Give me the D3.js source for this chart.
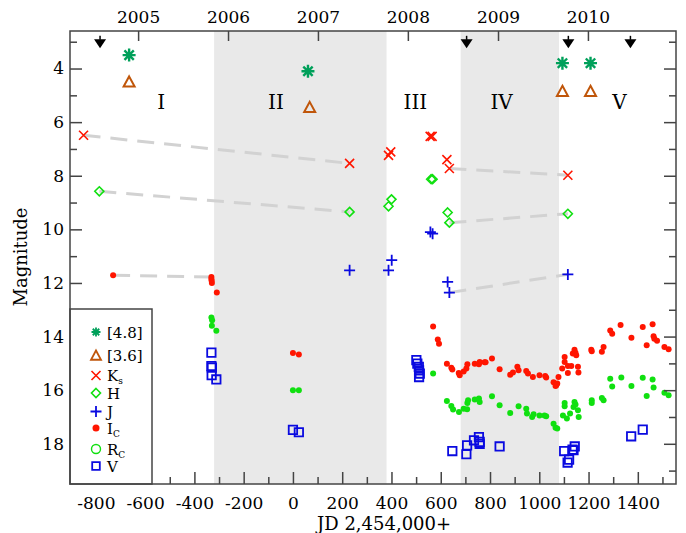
<!DOCTYPE html>
<html>
<head>
<meta charset="utf-8">
<script src="https://cdn.jsdelivr.net/npm/d3@7/dist/d3.min.js"></script>
<style>
  body { margin: 0; background: #fff; }
  svg { display: block; font-family: "DejaVu Serif", serif; }
</style>
</head>
<body>
<svg id="chart" width="686" height="533"></svg>
<script>
// photometry: [JD - 2454000, magnitude]
const irac48 = [[-665, 3.5], [61, 4.1], [1094, 3.8], [1208, 3.8]];
const irac36 = [[-665, 4.5], [68, 5.45], [1094, 4.85], [1208, 4.85]];
const ksBand = [[-850, 6.49], [230, 7.54], [388, 7.24], [397, 7.11], [557, 6.53], [565, 6.53], [625, 7.40], [635, 7.73], [1116, 7.98]];
const hBand = [[-786, 8.58], [230, 9.35], [388, 9.14], [400, 8.88], [561, 8.13], [567, 8.13], [628, 9.37], [635, 9.75], [1116, 9.42]];
const jBand = [[230, 11.53], [388, 11.53], [401, 11.15], [558, 10.1], [567, 10.16], [628, 11.96], [635, 12.36], [1116, 11.68]];
const icBand = [[-730, 11.71], [-331, 11.78], [-331, 11.85], [-330, 11.92], [-329, 12.0], [-309, 12.36],
  [0, 14.61], [24, 14.67],
  [569, 13.62], [588, 14.11], [593, 14.27], [625, 15.01], [643, 15.16], [647, 15.23], [673, 15.36], [677, 15.44],
  [693, 15.3], [704, 15.19], [708, 15.03], [738, 15.01], [755, 15.03], [758, 14.95], [778, 14.96], [782, 14.96],
  [808, 14.82], [839, 15.22], [882, 15.42], [893, 15.34], [911, 15.13], [916, 15.26], [947, 15.28], [954, 15.38],
  [974, 15.51], [1001, 15.44], [1024, 15.47], [1028, 15.53], [1058, 15.70], [1066, 15.84], [1069, 15.82], [1073, 15.75],
  [1078, 15.51], [1093, 15.19], [1103, 14.76], [1103, 14.95], [1116, 15.36], [1116, 15.1], [1130, 15.1], [1136, 14.63],
  [1143, 14.49], [1147, 14.6], [1150, 14.7], [1157, 15.13], [1159, 15.34], [1211, 14.49], [1213, 14.55], [1254, 14.57],
  [1261, 14.39], [1288, 13.77], [1296, 13.89], [1330, 13.57], [1374, 14.04], [1420, 13.64], [1436, 14.32], [1460, 13.54],
  [1464, 13.99], [1467, 14.08], [1478, 14.16], [1508, 14.39], [1525, 14.47]];
const rcBand = [[-331, 13.29], [-328, 13.39], [-329, 13.6], [-311, 13.78],
  [0, 16.0], [24, 16.0],
  [569, 15.38], [625, 16.4], [643, 16.59], [650, 16.72], [674, 16.81], [693, 16.69], [707, 16.71], [708, 16.48],
  [711, 16.38], [738, 16.35], [755, 16.31], [758, 16.44], [808, 16.23], [839, 16.56], [882, 16.85], [916, 16.6],
  [947, 16.69], [950, 16.87], [971, 17.0], [977, 16.9], [1001, 16.94], [1021, 16.94], [1028, 16.97], [1058, 17.25],
  [1066, 17.4], [1073, 17.43], [1096, 16.94], [1103, 16.6], [1103, 16.48], [1112, 17.06], [1125, 16.87], [1139, 16.63],
  [1143, 16.44], [1147, 16.53], [1157, 16.75], [1160, 17.0], [1213, 16.38], [1213, 16.48], [1254, 16.29], [1261, 16.38],
  [1288, 15.57], [1296, 15.86], [1333, 15.53], [1374, 15.84], [1420, 15.54], [1436, 16.22], [1460, 15.6], [1464, 15.9],
  [1508, 16.1], [1525, 16.19]];
const vBand = [[-331, 14.6], [-331, 15.1], [-329, 15.16], [-330, 15.44], [-311, 15.6],
  [0, 17.48], [24, 17.57],
  [501, 14.88], [505, 15.01], [511, 15.13], [512, 15.26], [515, 15.38], [512, 15.51],
  [647, 18.27], [707, 18.06], [704, 18.39], [735, 17.87], [755, 17.75], [758, 17.93], [758, 18.0], [839, 18.1],
  [1101, 18.27], [1115, 18.7], [1121, 18.59], [1135, 18.22], [1144, 18.1], [1139, 18.24], [1373, 17.72], [1420, 17.47]];

// dashed connectors between epochs
const connectors = [
  [[-850, 6.49], [230, 7.54]], [[-786, 8.58], [230, 9.35]], [[-730, 11.71], [-331, 11.78]],
  [[635, 7.73], [1116, 7.98]], [[635, 9.75], [1116, 9.42]], [[635, 12.36], [1116, 11.68]]];

const shadedSpans = [[-320, 380], [681, 1080]];
const eraNames = ["I", "II", "III", "IV", "V"];
const eraJD = [-535, -69, 497, 847, 1326];
const eraMag = 5.5;
const arrowJD = [-783, 705, 1118, 1370];
const arrowMag = 2.78;
const yearLabels = [2005, 2006, 2007, 2008, 2009, 2010];
const yearJD = [-628.5, -263.5, 101.5, 466.5, 832.5, 1197.5];
const xMajor = [-800, -600, -400, -200, 0, 200, 400, 600, 800, 1000, 1200, 1400];
const xMinor = [-900, -700, -500, -300, -100, 100, 300, 500, 700, 900, 1100, 1300, 1500];
const yMajor = [4, 6, 8, 10, 12, 14, 16, 18];
const yMinor = [3, 5, 7, 9, 11, 13, 15, 17, 19];

const svg = d3.select("#chart");
const margin = {top: 31, right: 10, bottom: 49, left: 70},
  width = 686 - margin.left - margin.right,
  height = 533 - margin.top - margin.bottom;

const x = d3.scaleLinear().domain([-905, 1555]).range([0, width]);
const y = d3.scaleLinear().domain([2.6, 19.5]).range([0, height]);

const g = svg.append("g").attr("transform", `translate(${margin.left},${margin.top})`);

// shaded epochs
g.selectAll(".band").data(shadedSpans).enter().append("rect")
  .attr("x", d => x(d[0])).attr("y", 0)
  .attr("width", d => x(d[1]) - x(d[0])).attr("height", height)
  .style("fill", "#e9e9e9");

// epoch labels
g.selectAll(".era").data(eraNames).enter().append("text")
  .attr("x", (d, i) => x(eraJD[i])).attr("y", y(eraMag))
  .attr("text-anchor", "middle")
  .style("font-size", "20px")
  .text(d => d);

// dashed connectors
g.selectAll(".conn").data(connectors).enter().append("line")
  .attr("x1", d => x(d[0][0])).attr("y1", d => y(d[0][1]))
  .attr("x2", d => x(d[1][0])).attr("y2", d => y(d[1][1]))
  .style("stroke", "#d2d2d2").style("stroke-width", 3)
  .style("stroke-dasharray", "17,10");

// marker shapes
const shapes = {
  aster: r => { const k = r * 0.72; return `M${-r},0H${r}M0,${-r}V${r}M${-k},${-k}L${k},${k}M${-k},${k}L${k},${-k}`; },
  tri: r => `M0,${-r}L${r},${r * 0.85}H${-r}Z`,
  cross: r => `M${-r},${-r}L${r},${r}M${-r},${r}L${r},${-r}`,
  diamond: r => `M0,${-r}L${r},0L0,${r}L${-r},0Z`,
  plus: r => `M${-r},0H${r}M0,${-r}V${r}`,
  square: r => `M${-r},${-r}H${r}V${r}H${-r}Z`
};

function drawPaths(data, shape, r, color, sw) {
  g.append("g").selectAll("path").data(data).enter().append("path")
    .attr("transform", d => `translate(${x(d[0])},${y(d[1])})`)
    .attr("d", shapes[shape](r))
    .style("fill", "none").style("stroke", color).style("stroke-width", sw);
}
function drawDots(data, color) {
  g.append("g").selectAll("circle").data(data).enter().append("circle")
    .attr("cx", d => x(d[0])).attr("cy", d => y(d[1])).attr("r", 3)
    .style("fill", color);
}

const cStar = "#00a05a", cTri = "#c0560a", cRed = "#ff1500", cGreen = "#10e010", cBlue = "#0a0ae0";

drawDots(icBand, cRed);
drawDots(rcBand, cGreen);
drawPaths(vBand, "square", 4.2, cBlue, 1.8);
drawPaths(jBand, "plus", 5.5, cBlue, 1.8);
drawPaths(hBand, "diamond", 4.5, cGreen, 1.6);
drawPaths(ksBand, "cross", 4.5, cRed, 1.6);
drawPaths(irac36, "tri", 5.5, cTri, 2);
drawPaths(irac48, "aster", 6.5, cStar, 2.4);

// upper-limit arrows
const arrows = g.append("g").selectAll("g").data(arrowJD).enter().append("g")
  .attr("transform", d => `translate(${x(d)},${y(arrowMag)})`);
arrows.append("line").attr("y1", 0).attr("y2", 4).style("stroke", "#000").style("stroke-width", 1.5);
arrows.append("path").attr("d", "M-6,3.5H6L0,12.5Z").style("fill", "#000");

// axes
const axisColor = "#444";
function styleAxis(sel, fs) {
  sel.select(".domain").remove();
  sel.selectAll(".tick line").style("stroke", axisColor).style("stroke-width", 1.5);
  sel.selectAll("text").style("font-size", fs).style("font-family", "DejaVu Serif, serif").attr("fill", "#000");
}

g.append("g").attr("transform", `translate(0,${height})`)
  .call(d3.axisBottom(x).tickValues(xMajor).tickSize(-12).tickPadding(13).tickFormat(d => String(d)))
  .call(s => styleAxis(s, "17px"));
g.append("g").attr("transform", `translate(0,${height})`)
  .call(d3.axisBottom(x).tickValues(xMinor).tickSize(-7).tickFormat(""))
  .call(s => styleAxis(s, "17px"));

g.append("g")
  .call(d3.axisTop(x).tickValues(yearJD).tickSize(-10).tickPadding(8).tickFormat((d, i) => yearLabels[i]))
  .call(s => styleAxis(s, "17px"));

g.append("g")
  .call(d3.axisLeft(y).tickValues(yMajor).tickSize(-12).tickPadding(6).tickFormat(d => String(d)))
  .call(s => styleAxis(s, "17px"));
g.append("g")
  .call(d3.axisLeft(y).tickValues(yMinor).tickSize(-7).tickFormat(""))
  .call(s => styleAxis(s, "17px"));

g.append("g").attr("transform", `translate(${width},0)`)
  .call(d3.axisRight(y).tickValues(yMajor).tickSize(-12).tickFormat(""))
  .call(s => styleAxis(s, "17px"));
g.append("g").attr("transform", `translate(${width},0)`)
  .call(d3.axisRight(y).tickValues(yMinor).tickSize(-7).tickFormat(""))
  .call(s => styleAxis(s, "17px"));

// legend box
const leg = g.append("g");
leg.append("rect").attr("x", 0).attr("y", 278).attr("width", 82).attr("height", height - 278)
  .style("fill", "#fff").style("stroke", axisColor).style("stroke-width", 1.5);

const legendItems = [
  {shape: "aster", r: 4.5, color: cStar, sw: 1.8, label: "[4.8]", y: 301},
  {shape: "tri", r: 5, color: cTri, sw: 1.8, label: "[3.6]", y: 324.5},
  {shape: "cross", r: 4.5, color: cRed, sw: 1.6, label: "K", sub: "s", y: 344.5},
  {shape: "diamond", r: 4.5, color: cGreen, sw: 1.6, label: "H", y: 362},
  {shape: "plus", r: 5.5, color: cBlue, sw: 1.8, label: "J", y: 380.5},
  {shape: "dot", color: cRed, label: "I", sub: "C", y: 397},
  {shape: "ring", color: cGreen, label: "R", sub: "C", y: 418},
  {shape: "square", r: 3.8, color: cBlue, sw: 1.8, label: "V", y: 435}
];
const li = leg.selectAll(".li").data(legendItems).enter().append("g")
  .attr("transform", d => `translate(26,${d.y})`);
li.each(function(d) {
  const s = d3.select(this);
  if (d.shape === "dot") s.append("circle").attr("r", 3.5).style("fill", d.color);
  else if (d.shape === "ring") s.append("circle").attr("r", 4.5).style("fill", "none").style("stroke", d.color).style("stroke-width", 1.4);
  else s.append("path").attr("d", shapes[d.shape](d.r)).style("fill", "none").style("stroke", d.color).style("stroke-width", d.sw);
  const t = s.append("text").attr("x", 11).attr("y", 5.5).style("font-size", "15px").text(d.label);
  if (d.sub) t.append("tspan").attr("dy", 3).style("font-size", "9px").text(d.sub);
});

// frame
g.append("rect").attr("width", width).attr("height", height)
  .style("fill", "none").style("stroke", axisColor).style("stroke-width", 1.5);

// titles
svg.append("text").attr("transform", "translate(27,257) rotate(-90)")
  .attr("text-anchor", "middle").style("font-size", "18px").text("Magnitude");
svg.append("text").attr("x", margin.left + x(-360) + (x(1100) - x(-360)) / 2).attr("y", 530)
  .attr("text-anchor", "middle").style("font-size", "18px").text("JD 2,454,000+");
</script>
</body>
</html>
